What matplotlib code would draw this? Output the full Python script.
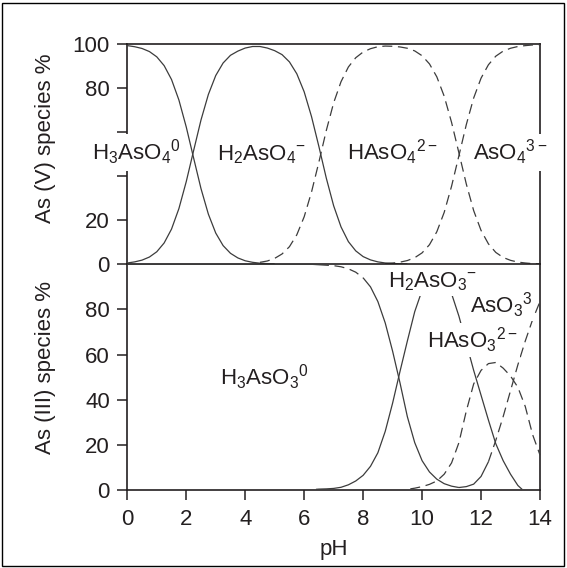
import matplotlib
matplotlib.use("Agg")
import matplotlib.pyplot as plt
from matplotlib.patches import Rectangle

plt.rcParams['font.family'] = ['Liberation Sans', 'DejaVu Sans']
plt.rcParams['mathtext.fontset'] = 'custom'
plt.rcParams['mathtext.rm'] = 'Liberation Sans'
plt.rcParams['mathtext.it'] = 'Liberation Sans'
plt.rcParams['mathtext.bf'] = 'Liberation Sans'

# ---------------- data: As(V) ----------------
ph_h3aso4 = [0, 0.25, 0.5, 0.75, 1.0, 1.25, 1.5, 1.75, 2.0, 2.25, 2.5, 2.75, 3.0, 3.25, 3.5,
             3.75, 4.0, 4.25, 4.5, 4.75, 5.0]
h3aso4 = [99.4, 98.9, 98.1, 96.7, 94.3, 90.3, 84.0, 74.7, 62.4, 48.3, 34.4, 22.8, 14.2, 8.5, 5.0,
          2.9, 1.6, 0.9, 0.5, 0.3, 0.2]

ph_h2aso4 = [0, 0.25, 0.5, 0.75, 1.0, 1.25, 1.5, 1.75, 2.0, 2.25, 2.5, 2.75, 3.0, 3.25, 3.5,
             3.75, 4.0, 4.25, 4.5, 4.75, 5.0, 5.25, 5.5, 5.75, 6.0, 6.25, 6.5, 6.75, 7.0,
             7.25, 7.5, 7.75, 8.0, 8.25, 8.5, 8.75, 9.0, 9.25, 9.5]
h2aso4 = [0.6, 1.1, 1.9, 3.3, 5.7, 9.7, 16.0, 25.3, 37.6, 51.7, 65.6, 77.2, 85.8, 91.5, 95.0,
          96.9, 98.3, 99.0, 99.0, 98.3, 97.1, 95.3, 92.0, 86.6, 78.4, 67.1, 53.5, 39.2, 26.6,
          17.0, 10.3, 6.1, 3.5, 2.0, 1.1, 0.6, 0.4, 0.2, 0.1]

ph_haso4 = [4.5, 4.75, 5.0, 5.25, 5.5, 5.75, 6.0, 6.25, 6.5, 6.75, 7.0, 7.25, 7.5, 7.75, 8.0,
            8.25, 8.5, 8.75, 9.0, 9.25, 9.5, 9.75, 10.0, 10.25, 10.5, 10.75, 11.0, 11.25,
            11.5, 11.75, 12.0, 12.25, 12.5, 12.75, 13.0, 13.25, 13.5, 13.75, 14.0]
haso4 = [0.9, 1.5, 2.7, 4.7, 8.0, 13.4, 21.6, 32.9, 46.5, 60.8, 73.4, 83.0, 89.7, 93.9, 96.5,
         98.0, 98.9, 99.2, 99.1, 98.8, 98.2, 97.0, 94.8, 91.1, 85.2, 76.4, 64.5, 50.6,
         36.5, 24.4, 15.4, 9.3, 5.4, 3.1, 1.8, 1.0, 0.6, 0.3, 0.2]

ph_aso4 = [8.75, 9.0, 9.25, 9.5, 9.75, 10.0, 10.25, 10.5, 10.75, 11.0, 11.25, 11.5, 11.75,
           12.0, 12.25, 12.5, 12.75, 13.0, 13.25, 13.5, 13.75, 14.0]
aso4 = [0.3, 0.55, 0.97, 1.7, 3.0, 5.2, 8.9, 14.8, 23.6, 35.5, 49.4, 63.5, 75.6,
        84.6, 90.7, 94.6, 96.9, 98.2, 99.0, 99.4, 99.7, 99.8]

# ---------------- data: As(III) ----------------
ph_h3aso3 = [0, 6.25, 6.5, 6.75, 7.0, 7.25, 7.5, 7.75, 8.0, 8.25, 8.5, 8.75, 9.0, 9.25,
             9.5, 9.75, 10.0, 10.25, 10.5, 10.75, 11.0, 11.25]
h3aso3 = [100, 100, 99.8, 99.6, 99.4, 98.9, 98.0, 96.5, 94.0, 90.0, 83.5, 74.0, 61.5, 47.5,
          32.5, 21.0, 13.0, 8.0, 4.8, 2.8, 1.7, 1.1]

ph_h2aso3 = [6.4, 6.5, 6.75, 7.0, 7.25, 7.5, 7.75, 8.0, 8.25, 8.5, 8.75, 9.0, 9.25, 9.5,
             9.75, 10.0, 10.25, 10.5, 10.75, 11.0, 11.25, 11.5, 11.75, 12.0, 12.25, 12.5,
             12.75, 13.0, 13.25, 13.4]
h2aso3 = [0.3, 0.4, 0.5, 0.7, 1.2, 2.3, 4.0, 6.5, 10.5, 16.5, 26.0, 38.5, 52.5, 66.0,
          79.0, 88.5, 93.0, 95.0, 93.5, 87.0, 77.0, 65.0, 53.0, 42.0, 31.0, 20.5,
          13.0, 7.0, 2.0, 0.2]

ph_haso3 = [9.6, 9.75, 10.0, 10.25, 10.5, 10.75, 11.0, 11.25, 11.5, 11.75, 12.0, 12.25,
            12.5, 12.75, 13.0, 13.25, 13.5, 13.75, 14.0]
haso3 = [0.5, 0.8, 1.5, 2.5, 4.0, 7.0, 12.0, 21.0, 35.0, 47.0, 53.0, 56.0,
         56.5, 54.0, 50.5, 45.5, 37.0, 24.5, 15.5]

ph_aso3 = [11.25, 11.5, 11.75, 12.0, 12.25, 12.5, 12.75, 13.0, 13.25, 13.5, 13.75, 14.0]
aso3 = [1.1, 1.5, 2.6, 6.0, 12.5, 22.0, 32.5, 44.0, 55.5, 66.0, 75.5, 83.5]

x_ticks = [0, 2, 4, 6, 8, 10, 12, 14]
top_yticks = [0, 20, 40, 60, 80, 100]
top_yticklabels = ['0', '20', '', '', '80', '100']
bot_yticks = [0, 20, 40, 60, 80]

# ---------------- styling ----------------
W, H = 567, 568
fig = plt.figure(figsize=(W / 100, H / 100), dpi=100)
LC = '#3c3c3c'
TC = '#231f20'
LW = 0.9
DASH = (0, (8, 4.5))
FS = 16

def px_box(l, t, r, b):
    return [l / W, 1 - b / H, (r - l) / W, (b - t) / H]

ax1 = fig.add_axes(px_box(127.3, 44.3, 540, 264.3))
ax2 = fig.add_axes(px_box(127.3, 264.3, 540, 490))

def plot_seg(ax, x, y, i0, i1, style):
    ax.plot(x[i0:i1 + 1], y[i0:i1 + 1], color=LC, lw=LW, linestyle=style,
            solid_capstyle='butt', zorder=2, clip_on=False)

# top panel
plot_seg(ax1, ph_h3aso4, h3aso4, 0, len(h3aso4) - 1, '-')
plot_seg(ax1, ph_h2aso4, h2aso4, 0, len(h2aso4) - 1, '-')
plot_seg(ax1, ph_haso4, haso4, 0, len(haso4) - 1, DASH)
plot_seg(ax1, ph_aso4, aso4, 0, len(aso4) - 1, DASH)

# bottom panel
i_d0 = ph_h3aso3.index(6.5)
i_d1 = ph_h3aso3.index(8.0)
plot_seg(ax2, ph_h3aso3, h3aso3, 0, i_d0, '-')
plot_seg(ax2, ph_h3aso3, h3aso3, i_d0, i_d1, DASH)
plot_seg(ax2, ph_h3aso3, h3aso3, i_d1, len(h3aso3) - 1, '-')
plot_seg(ax2, ph_h2aso3, h2aso3, 0, len(h2aso3) - 1, '-')
plot_seg(ax2, ph_haso3, haso3, 0, len(haso3) - 1, DASH)
i_s = ph_aso3.index(12.25)
plot_seg(ax2, ph_aso3, aso3, 0, i_s, '-')
plot_seg(ax2, ph_aso3, aso3, i_s, len(aso3) - 1, DASH)

for ax in (ax1, ax2):
    ax.set_xlim(0, 14)
    for s in ax.spines.values():
        s.set_linewidth(1.2)
        s.set_color(TC)
        s.set_zorder(1)
    ax.tick_params(direction='out', length=7.5, width=1.1, colors=TC,
                   labelsize=FS, pad=5)

ax1.set_ylim(0, 100)
ax1.set_yticks(top_yticks)
ax1.set_yticklabels(top_yticklabels)
ax1.set_xticks([])
ax1.spines['bottom'].set_visible(False)

ax2.set_ylim(0, 100)
ax2.set_yticks(bot_yticks)
ax2.set_xticks(x_ticks)
ax2.spines['top'].set_linewidth(1.2)
ax2.tick_params(axis='x', pad=6)

# species labels (white boxes hide the curves behind them)
def lab(ax, x, y, s, pad=0.18):
    ax.text(x, y, s, fontsize=FS, color=TC, ha='left', va='baseline',
            zorder=5, clip_on=False,
            bbox=dict(facecolor='white', edgecolor='none', pad=pad * FS))

lab(ax1, -1.2, 47.4, r'H$_3$AsO$_4$$^0$')
lab(ax1, 3.03, 47.4, r'H$_2$AsO$_4$$^{-}$')
lab(ax1, 7.45, 47.4, r'HAsO$_4$$^{2-}$')
lab(ax1, 11.73, 47.4, r'AsO$_4$$^{3-}$')

lab(ax2, 3.14, 46.7, r'H$_3$AsO$_3$$^0$', pad=0.1)
lab(ax2, 8.84, 89.6, r'H$_2$AsO$_3$$^{-}$', pad=0.1)
lab(ax2, 11.62, 78.5, r'AsO$_3$$^{3}$', pad=0.05)
lab(ax2, 10.16, 63.0, r'HAsO$_3$$^{2-}$', pad=0.1)

fig.text(46 / W, 1 - 138 / H, 'As (V) species %', rotation=90, ha='center', va='center',
         fontsize=FS, color=TC)
fig.text(46 / W, 1 - 368 / H, 'As (III) species %', rotation=90, ha='center', va='center',
         fontsize=FS, color=TC)
fig.text(333.6 / W, 1 - 550 / H, 'pH', ha='center', va='center', fontsize=FS, color=TC)

fig.patches.append(Rectangle((2 / W, 2 / H), (W - 5) / W, (H - 5) / H,
                             transform=fig.transFigure, fill=False,
                             edgecolor='black', linewidth=1.0))

fig.savefig('out.png', dpi=100)
